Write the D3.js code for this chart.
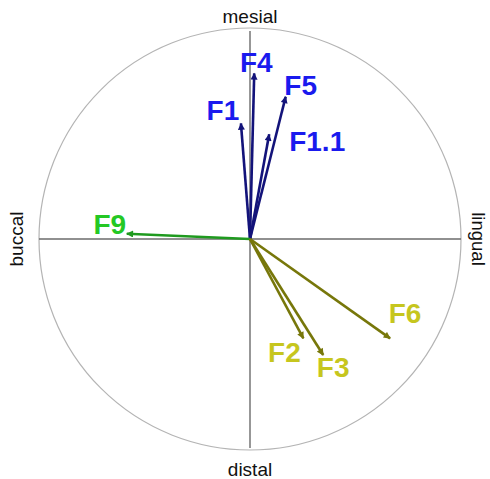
<!DOCTYPE html>
<html>
<head>
<meta charset="utf-8">
<script src="https://cdn.jsdelivr.net/npm/d3@7"></script>
<style>
  html, body { margin: 0; padding: 0; background: #fff; }
  svg { display: block; }
</style>
</head>
<body>
<svg id="chart" width="490" height="479"></svg>
<script>
// Vector names, unit-circle components (x: buccal→lingual, y: distal→mesial) and group
const names  = ["F4", "F1", "F5", "F1.1", "F9", "F2", "F3", "F6"];
const xComp  = [0.020, -0.043, 0.169, 0.091, -0.584, 0.253, 0.347, 0.664];
const yComp  = [0.785, 0.548, 0.674, 0.496, 0.025, -0.471, -0.550, -0.471];
const groups = ["blue", "blue", "blue", "blue", "green", "olive", "olive", "olive"];

// Direction labels around the circle
const directions = ["mesial", "lingual", "distal", "buccal"];

// Label offsets from each arrow tip, in pixels (text centre, baseline)
const labelDx = [2, -18, 15, 48, -17, -19, 10, 15];
const labelDy = [-1, -3, -2, 17, 0, 24, 22, -15];

const groupStyle = {
  blue:  { line: "#13137a", text: "#1a1aee" },
  green: { line: "#1f9a1f", text: "#24c824" },
  olive: { line: "#77770a", text: "#c6c61e" }
};

const svg = d3.select("#chart");
const cx = 250, cy = 239, R = 211;

const x = d3.scaleLinear().domain([-1, 1]).range([cx - R, cx + R]);
const y = d3.scaleLinear().domain([-1, 1]).range([cy + R, cy - R]);

// Outer unit circle
svg.append("circle")
  .attr("cx", x(0)).attr("cy", y(0)).attr("r", x(1) - x(0))
  .attr("fill", "none").attr("stroke", "#b4b4b4").attr("stroke-width", 1.2);

// Cross-hair axes
svg.append("line")
  .attr("x1", x(-1)).attr("x2", x(1)).attr("y1", y(0)).attr("y2", y(0))
  .attr("stroke", "#6b6b6b").attr("stroke-width", 1.4);
svg.append("line")
  .attr("x1", x(0)).attr("x2", x(0)).attr("y1", y(1) + 3).attr("y2", y(-1) - 2)
  .attr("stroke", "#6b6b6b").attr("stroke-width", 1.4);

// Direction labels
const dirFont = "'Liberation Sans', Arial, sans-serif";
svg.append("text").text(directions[0])
  .attr("x", x(0)).attr("y", 23)
  .attr("text-anchor", "middle").attr("font-family", dirFont).attr("font-size", 19).attr("fill", "#111");
svg.append("text").text(directions[2])
  .attr("x", x(0)).attr("y", 476)
  .attr("text-anchor", "middle").attr("font-family", dirFont).attr("font-size", 19).attr("fill", "#111");
svg.append("text").text(directions[3])
  .attr("transform", `translate(23,${y(0)}) rotate(-90)`)
  .attr("text-anchor", "middle").attr("font-family", dirFont).attr("font-size", 19).attr("fill", "#111");
svg.append("text").text(directions[1])
  .attr("transform", `translate(472,${y(0)}) rotate(90)`)
  .attr("text-anchor", "middle").attr("font-family", dirFont).attr("font-size", 18.5).attr("fill", "#111");

// Arrowhead markers, one per group colour
const defs = svg.append("defs");
Object.entries(groupStyle).forEach(([k, s]) => {
  defs.append("marker")
    .attr("id", "head-" + k)
    .attr("viewBox", "0 0 10 10")
    .attr("refX", 9).attr("refY", 5)
    .attr("markerUnits", "userSpaceOnUse")
    .attr("markerWidth", 9).attr("markerHeight", 7)
    .attr("orient", "auto")
    .append("path").attr("d", "M0,0 L10,5 L0,10 Z").attr("fill", s.line);
});

const data = names.map((n, i) => ({
  name: n, vx: xComp[i], vy: yComp[i], g: groups[i], dx: labelDx[i], dy: labelDy[i]
}));

// Vectors
svg.append("g").selectAll("line").data(data).join("line")
  .attr("x1", x(0)).attr("y1", y(0))
  .attr("x2", d => x(d.vx)).attr("y2", d => y(d.vy))
  .attr("stroke", d => groupStyle[d.g].line)
  .attr("stroke-width", 2.6)
  .attr("marker-end", d => `url(#head-${d.g})`);

// Vector labels
svg.append("g").selectAll("text").data(data).join("text")
  .text(d => d.name)
  .attr("x", d => x(d.vx) + d.dx)
  .attr("y", d => y(d.vy) + d.dy)
  .attr("text-anchor", "middle")
  .attr("font-family", "'Liberation Sans', Arial, sans-serif")
  .attr("font-weight", "bold")
  .attr("font-size", 28)
  .attr("fill", d => groupStyle[d.g].text);
</script>
</body>
</html>
